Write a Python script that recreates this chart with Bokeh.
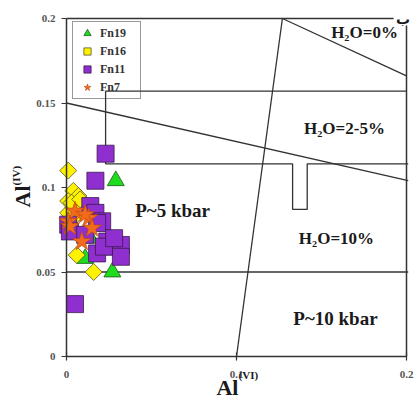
import math
from bokeh.plotting import figure
from bokeh.models import Range1d, FixedTicker, Label
from bokeh.core.properties import value
from bokeh.embed import file_html
from bokeh.resources import INLINE

# ---- data (Al(VI), Al(IV)) ----
fn19_x = [0.029, 0.011, 0.027, 0.025, 0.014]
fn19_y = [0.104, 0.058, 0.050, 0.063, 0.070]

fn16_x = [0.001, 0.004, 0.007, 0.001, 0.004, 0.001, 0.003, 0.008, 0.006, 0.016, 0.005]
fn16_y = [0.110, 0.098, 0.095, 0.092, 0.088, 0.085, 0.091, 0.093, 0.060, 0.050, 0.083]

fn11_x = [0.023, 0.017, 0.014, 0.017, 0.021, 0.018, 0.024, 0.032, 0.018, 0.032, 0.022,
          0.001, 0.005, 0.002, 0.028, 0.011]
fn11_y = [0.120, 0.104, 0.089, 0.085, 0.080, 0.079, 0.068, 0.066, 0.061, 0.059, 0.065,
          0.078, 0.031, 0.074, 0.070, 0.072]

fn7_x = [0.005, 0.013, 0.001, 0.015, 0.009, 0.002, 0.011]
fn7_y = [0.086, 0.082, 0.080, 0.076, 0.068, 0.077, 0.084]

# ---- diagram boundaries ----
top_x = [0.000, 0.1924]
top_y = [0.200, 0.200]
right_x = [0.200, 0.200]
right_y = [0.1959, 0.000]
pressure_x = [0.127, 0.100]
pressure_y = [0.200, 0.000]
h2o0_x = [0.127, 0.200]
h2o0_y = [0.200, 0.166]
h2o25_x = [0.200, 0.023, 0.023, 0.133, 0.133, 0.1416, 0.1416, 0.201]
h2o25_y = [0.157, 0.157, 0.114, 0.114, 0.087, 0.087, 0.114, 0.114]
diag_x = [0.000, 0.201]
diag_y = [0.150, 0.104]
p5_x = [0.000, 0.201]
p5_y = [0.050, 0.050]

h2o_text = ["H\u2082O=0%", "H\u2082O=2-5%", "H\u2082O=10%"]
h2o_x = [0.1753, 0.1635, 0.1588]
h2o_y = [0.1917, 0.1349, 0.0698]
p_text = ["P~5 kbar", "P~10 kbar"]
p_x = [0.0624, 0.1582]
p_y = [0.0864, 0.0225]

x_ticks = [0, 0.1, 0.2]
x_tick_labels = ["0", "0.1", "0.2"]
y_ticks = [0, 0.05, 0.1, 0.15, 0.2]
y_tick_labels = ["0", "0.05", "0.1", "0.15", "0.2"]

FONT = "Liberation Serif"
LINE = "#333333"
TXT = "#1a1a1a"

W, H = 414, 402
# frame covers the whole canvas; data 0..0.2 sits at pixels 66..406 (x) and 356..18 (y)
p = figure(width=W, height=H,
           x_range=Range1d(-66 / 1700, (W - 66) / 1700),
           y_range=Range1d((356 - H) / 1690, 356 / 1690),
           output_backend="svg", toolbar_location=None,
           min_border=0, min_border_left=0, min_border_right=0,
           min_border_top=0, min_border_bottom=0)
p.grid.visible = False
p.outline_line_color = None
p.background_fill_color = "white"
p.border_fill_color = "white"

p.xaxis.ticker = FixedTicker(ticks=x_ticks)
p.xaxis.major_label_overrides = dict(zip(x_ticks, x_tick_labels))
p.yaxis.ticker = FixedTicker(ticks=y_ticks)
p.yaxis.major_label_overrides = dict(zip(y_ticks, y_tick_labels))
for ax in (p.xaxis[0], p.yaxis[0]):
    ax.fixed_location = 0
    ax.bounds = (0, 0.2)
    ax.axis_line_color = LINE
    ax.axis_line_width = 1.5
    ax.major_tick_line_color = LINE
    ax.major_tick_line_width = 1.2
    ax.minor_tick_line_color = None
    ax.major_label_text_font = FONT
    ax.major_label_text_font_style = "bold"
    ax.major_label_text_font_size = "11px"
    ax.major_label_text_color = "#555555"
p.yaxis.major_tick_out = 5
p.yaxis.major_tick_in = 0
p.yaxis.major_label_standoff = 6
p.xaxis.major_tick_out = 4
p.xaxis.major_tick_in = 4
p.xaxis.major_label_standoff = 10

for lx, ly in [(top_x, top_y), (right_x, right_y)]:
    p.line(lx, ly, line_color=LINE, line_width=1.5)
for lx, ly in [(pressure_x, pressure_y), (h2o0_x, h2o0_y), (h2o25_x, h2o25_y),
               (diag_x, diag_y), (p5_x, p5_y)]:
    p.line(lx, ly, line_color=LINE, line_width=1.3)

p.text(h2o_x, h2o_y, text=h2o_text, text_font=value(FONT),
       text_font_style="bold", text_font_size="17px", text_color=TXT,
       text_align="center", text_baseline="middle")
p.text(p_x, p_y, text=p_text, text_font=value(FONT),
       text_font_style="bold", text_font_size="19px", text_color=TXT,
       text_align="center", text_baseline="middle")

p.scatter(fn19_x, fn19_y, marker="triangle", size=17, fill_color="#1fdc1f",
          line_color="#1a5a1a", line_width=0.8, legend_label="Fn19")
p.scatter(fn16_x, fn16_y, marker="square", angle=math.pi / 4, size=12,
          fill_color="#fff200", line_color="#555533", line_width=0.8, legend_label="Fn16")
p.scatter(fn11_x, fn11_y, marker="square", size=17, fill_color="#8f2fcf",
          line_color="#3a1a4a", line_width=0.8, legend_label="Fn11")
p.scatter(fn7_x, fn7_y, marker="star", size=20, fill_color="#f26a1b",
          line_color="#b5470d", line_width=0.6, legend_label="Fn7")

lg = p.legend[0]
lg.location = (72, H - 99)
lg.margin = 0
lg.padding = 2
lg.spacing = 0
lg.glyph_width = 24
lg.glyph_height = 18
lg.label_height = 18
lg.label_width = 38
lg.label_standoff = 1
lg.border_line_color = LINE
lg.border_line_width = 1.5
lg.background_fill_alpha = 0
lg.label_text_font = FONT
lg.label_text_font_style = "bold"
lg.label_text_font_size = "12px"
lg.label_text_color = "#333333"

# axis titles Al(VI) and Al(IV), anchored at the middle of each text
def lab(x, y, text, size, angle=0.0, font=FONT):
    p.add_layout(Label(x=x, y=y, text=text, angle=angle, text_font=font,
                       text_font_style="bold", text_font_size=size, text_color=TXT,
                       text_align="left", text_baseline="middle"))

lab(0.0882, -0.0183, "Al", "22px")
lab(0.1012, -0.0112, "(VI)", "11px")
lab(-0.0259, 0.0882, "Al", "22px", angle=math.pi / 2)
lab(-0.0300, 0.1012, "(IV)", "11px", angle=math.pi / 2)
p.add_layout(Label(x=0.1980, y=0.1995, text="\u0628", text_font="DejaVu Sans",
                   text_font_style="bold", text_font_size="14px", text_color=TXT,
                   text_align="center", text_baseline="middle"))

open("out.html", "w").write(file_html(p, INLINE))
